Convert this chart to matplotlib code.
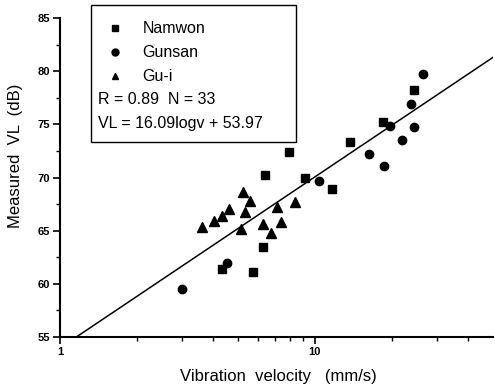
import numpy as np
import matplotlib
matplotlib.use("Agg")
import matplotlib.pyplot as plt
from matplotlib.ticker import FixedLocator, NullFormatter, FixedFormatter
from matplotlib.patches import Rectangle

plt.rcParams['font.family'] = ['Liberation Sans', 'DejaVu Sans']

# data (v in mm/s, VL in dB)
namwon_v = [6.37, 9.14, 6.25, 4.32, 5.71, 24.4, 18.5, 13.7, 7.91, 11.7]
namwon_vl = [70.2, 69.95, 63.5, 61.4, 61.1, 78.2, 75.2, 73.3, 72.4, 68.9]
gunsan_v = [4.52, 3.01, 26.5, 23.8, 19.7, 24.4, 21.9, 16.3, 18.7, 10.4]
gunsan_vl = [61.95, 59.5, 79.7, 76.9, 74.8, 74.75, 73.5, 72.2, 71.1, 69.7]
gui_v = [5.22, 5.56, 4.60, 4.32, 4.02, 3.60, 5.32, 5.13, 7.10, 8.35, 6.25, 7.36, 6.72]
gui_vl = [68.6, 67.8, 67.0, 66.4, 65.9, 65.3, 66.8, 65.2, 67.2, 67.7, 65.6, 65.8, 64.8]

# regression VL = a*log10(v) + b
a, b = 16.09, 53.97
R, N = 0.89, 33

fig = plt.figure(figsize=(4.95, 3.91), dpi=100)
ax = fig.add_axes([0.1212, 0.138, 0.875, 0.816])

ax.plot(namwon_v, namwon_vl, 's', color='black', ms=6)
ax.plot(gunsan_v, gunsan_vl, 'o', color='black', ms=6)
ax.plot(gui_v, gui_vl, '^', color='black', ms=6.5)

v = np.logspace(0, np.log10(50), 100)
ax.plot(v, a * np.log10(v) + b, '-', color='black', lw=1.1)

ax.set_xscale('log')
ax.set_xlim(1, 50)
ax.set_ylim(55, 85)

ax.xaxis.set_major_locator(FixedLocator([1, 10]))
ax.xaxis.set_major_formatter(FixedFormatter(['1', '10']))
ax.xaxis.set_minor_locator(FixedLocator([2, 3, 4, 5, 6, 7, 8, 9, 20, 30, 40]))
ax.xaxis.set_minor_formatter(NullFormatter())
ax.set_yticks([55, 60, 65, 70, 75, 80, 85])
ax.set_yticks(np.arange(57.5, 85, 5), minor=True)

ax.tick_params(which='major', direction='out', length=5, width=1.2,
               labelsize=8, pad=2)
ax.tick_params(which='minor', direction='out', length=3, width=1)
for lab in ax.get_xticklabels() + ax.get_yticklabels():
    lab.set_fontweight('bold')

for s in ['top', 'right']:
    ax.spines[s].set_visible(False)
for s in ['left', 'bottom']:
    ax.spines[s].set_linewidth(1.5)

ax.set_xlabel('Vibration  velocity   (mm/s)', fontsize=12)
ax.set_ylabel('Measured  VL  (dB)', fontsize=12)
ax.yaxis.set_label_coords(-0.085, 0.567)
ax.xaxis.set_label_coords(0.505, -0.1)

# legend box
box = Rectangle((0.072, 0.61), 0.473, 0.43, transform=ax.transAxes,
                fill=False, lw=1.0, ec='black', clip_on=False)
ax.add_patch(box)
rows = [('s', 'Namwon', 0.968), ('o', 'Gunsan', 0.893), ('^', 'Gu-i', 0.818)]
for m, name, yy in rows:
    ax.plot([0.127], [yy], m, color='black', ms=5, transform=ax.transAxes,
            clip_on=False)
    ax.text(0.19, yy, name, transform=ax.transAxes, fontsize=11.5,
            va='center', ha='left')
ax.text(0.088, 0.745, 'R = %.2f  N = %d' % (R, N), transform=ax.transAxes,
        fontsize=11.5, va='center', ha='left')
ax.text(0.088, 0.67, 'VL = %.2flogv + %.2f' % (a, b), transform=ax.transAxes,
        fontsize=11.5, va='center', ha='left')

fig.savefig('out.png', dpi=100)
